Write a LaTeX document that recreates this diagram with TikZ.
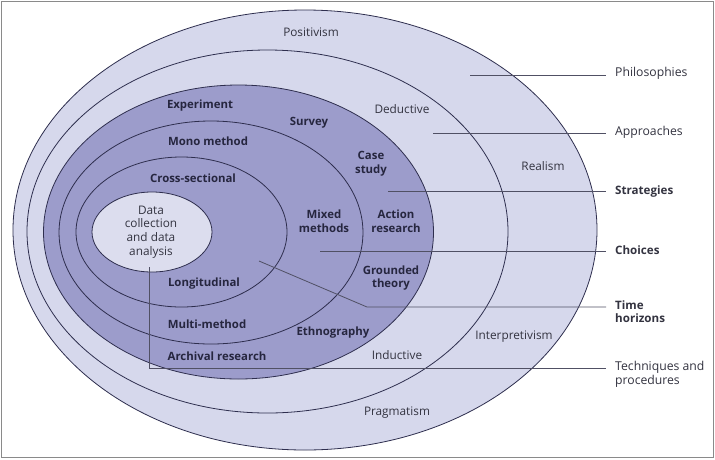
\documentclass[tikz,border=0pt]{standalone}
\usepackage{fontspec}
\setmainfont{Open Sans}
\begin{document}
\begin{tikzpicture}[x=1pt,y=-1pt,
  ring/.style={draw=ringline, line width=0.8pt},
  lt/.style={font=\fontsize{11.8}{13.8}\selectfont, text=lighttext, inner sep=0pt, align=center},
  dk/.style={font=\fontsize{11.4}{13.8}\selectfont\bfseries, text=darktext, inner sep=0pt, align=center},
  lab/.style={font=\fontsize{12.2}{13.8}\selectfont, text=lighttext, inner xsep=0pt, inner ysep=0pt, anchor=west, align=left},
  blab/.style={lab, font=\fontsize{11.6}{13.8}\selectfont\bfseries},
  leader/.style={draw=leadcol, line width=0.8pt}]
\definecolor{lightfill}{HTML}{D6D8EC}
\definecolor{darkfill}{HTML}{9C9CCB}
\definecolor{innerfill}{HTML}{DCDDEE}
\definecolor{ringline}{HTML}{2E2E4E}
\definecolor{leadcol}{HTML}{505064}
\definecolor{lighttext}{HTML}{333340}
\definecolor{darktext}{HTML}{26263F}
\definecolor{framecol}{HTML}{8A8A8A}
\useasboundingbox (0,0) rectangle (715,459);
\fill[white] (0,0) rectangle (715,459);
\draw[framecol, line width=1.2pt] (1.5,1.5) rectangle (713.5,457.5);
% rings
\path[ring, fill=lightfill] (305,230) ellipse [x radius=292pt, y radius=220pt];
\path[ring, fill=lightfill] (267.5,231.5) ellipse [x radius=240.5pt, y radius=181.5pt];
\path[ring, fill=darkfill] (238.5,232) ellipse [x radius=195pt, y radius=147pt];
\path[ring, fill=darkfill] (211,232.5) ellipse [x radius=152pt, y radius=111.5pt];
\path[ring, fill=darkfill] (181.5,232) ellipse [x radius=105.5pt, y radius=75pt];
\path[ring, fill=innerfill] (152,232) ellipse [x radius=60pt, y radius=40pt];
% ring labels
\node[lt] (positivism) at (311,32) {Positivism};
\node[lt] (deductive) at (402,109) {Deductive};
\node[lt] (realism) at (543,166) {Realism};
\node[lt] (interp) at (514,337) {Interpretivism};
\node[lt] (inductive) at (397,355) {Inductive};
\node[lt] (pragmatism) at (397,413) {Pragmatism};
\node[dk] (experiment) at (200,106) {Experiment};
\node[dk] (survey) at (309,123) {Survey};
\node[dk] (mono) at (208,141) {Mono method};
\node[dk] (cross) at (193,178) {Cross-sectional};
\node[dk] (case) at (371,164) {Case\\study};
\node[dk] (action) at (396,221) {Action\\research};
\node[dk] (mixed) at (324,221) {Mixed\\methods};
\node[dk] (grounded) at (391,278) {Grounded\\theory};
\node[dk] (ethno) at (333,333) {Ethnography};
\node[dk] (longi) at (204,284) {Longitudinal};
\node[dk] (multi) at (207,324) {Multi-method};
\node[dk] (archival) at (217,356) {Archival research};
\node[lt] (data) at (151,232) {Data\\collection\\and data\\analysis};
% right labels
\node[lab] (philo) at (615,73) {Philosophies};
\node[lab] (appr) at (615,132) {Approaches};
\node[blab] (strat) at (615,191) {Strategies};
\node[blab] (choices) at (615,250) {Choices};
\node[blab, anchor=north west] (time) at (615,300) {Time\\horizons};
\node[lab, anchor=north west] (tech) at (615,361) {Techniques and\\procedures};
% leader lines
\coordinate (p1) at (470,75);
\coordinate (p2) at (433,133);
\coordinate (p3) at (388,191);
\coordinate (p4) at (320,251);
\coordinate (p5) at (259,261);
\coordinate (p5b) at (367,307);
\coordinate (p6) at (149,267);
\coordinate (p6b) at (149,368);
\draw[leader, shorten >=9pt] (p1) -- (p1 -| philo.west);
\draw[leader, shorten >=9pt] (p2) -- (p2 -| appr.west);
\draw[leader, shorten >=9pt] (p3) -- (p3 -| strat.west);
\draw[leader, shorten >=9pt] (p4) -- (p4 -| choices.west);
\draw[leader, shorten >=9pt] (p5) -- (p5b) -- (p5b -| time.west);
\draw[leader, shorten >=9pt] (p6) -- (p6b) -- (p6b -| tech.west);
\end{tikzpicture}
\end{document}
